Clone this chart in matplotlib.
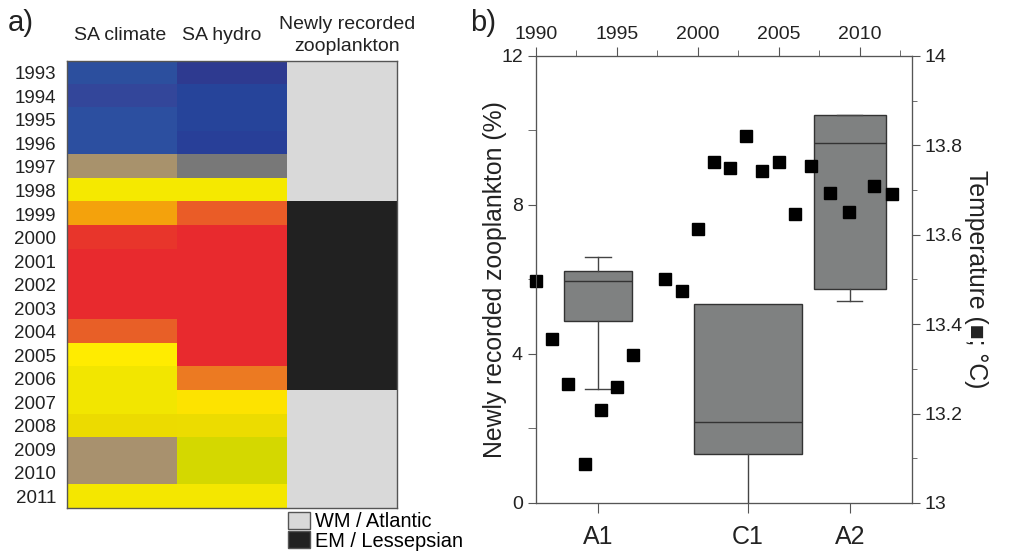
import numpy as np
import matplotlib
matplotlib.use("Agg")
import matplotlib.pyplot as plt
from matplotlib.colors import to_rgb
from matplotlib.patches import Patch

plt.rcParams['font.family'] = ['Liberation Sans', 'DejaVu Sans']

# ---- panel a data ----
years = [1993, 1994, 1995, 1996, 1997, 1998, 1999, 2000, 2001, 2002,
         2003, 2004, 2005, 2006, 2007, 2008, 2009, 2010, 2011]
columns = ["SA climate", "SA hydro", "Newly recorded\nzooplankton"]
sa_climate = ['#2c4f9e', '#33469a', '#2c4fa0', '#2c4fa0', '#a8926c', '#f5e900',
              '#f4a20c', '#e8352b', '#e82a2e', '#e82a2e', '#e82a2e', '#e85f27',
              '#ffec00', '#f2e600', '#f2e600', '#ecdb00', '#a8916e', '#a8916e',
              '#f4e700']
sa_hydro = ['#2e3a90', '#26449a', '#26449a', '#283f98', '#787878', '#f5e900',
            '#ea5c27', '#e82a2e', '#e82a2e', '#e82a2e', '#e82a2e', '#e82a2e',
            '#e82a2e', '#ec7a22', '#fde300', '#ecdc00', '#d4d800', '#d4d800',
            '#f4e700']
zoo_origin = ['WM'] * 6 + ['EM'] * 8 + ['WM'] * 5
origin_colors = {'WM': '#d9d9d9', 'EM': '#212121'}
origin_labels = {'WM': 'WM / Atlantic', 'EM': 'EM / Lessepsian'}

# ---- panel b data ----
groups = ["A1", "C1", "A2"]
group_pos = [1993.85, 2003.1, 2009.4]
group_width = [4.2, 6.7, 4.45]
box_q1 = [4.88, 1.32, 5.74]
box_med = [5.96, 2.17, 9.66]
box_q3 = [6.23, 5.33, 10.42]
whis_lo = [3.05, 0.0, 5.42]
whis_hi = [6.61, 5.33, 10.42]

temp_years = [1990, 1991, 1992, 1993, 1994, 1995, 1996, 1998, 1999, 2000,
              2001, 2002, 2003, 2004, 2005, 2006, 2007, 2008.15, 2009.35,
              2010.9, 2012]
temp = [13.496, 13.367, 13.266, 13.087, 13.208, 13.26, 13.33, 13.50, 13.475,
        13.612, 13.763, 13.749, 13.822, 13.743, 13.763, 13.646, 13.753,
        13.693, 13.650, 13.708, 13.691]

fig = plt.figure(figsize=(10.25, 5.52), dpi=100)
txt = '#222222'
spine_c = '#555555'

# ================= panel a =================
axa = fig.add_axes([0.0654, 0.0792, 0.3217, 0.8103])
rgb = np.array([[to_rgb(c1), to_rgb(c2), to_rgb(origin_colors[o])]
                for c1, c2, o in zip(sa_climate, sa_hydro, zoo_origin)])
axa.imshow(rgb, aspect='auto', interpolation='nearest',
           extent=(0, 3, len(years), 0))
axa.set_xlim(0, 3)
axa.set_ylim(len(years), 0)
axa.set_xticks([])
axa.set_yticks(np.arange(len(years)) + 0.5)
axa.set_yticklabels(years, fontsize=13.5, color=txt)
axa.tick_params(axis='y', length=0, pad=8)
for s in axa.spines.values():
    s.set_color('#555555')
    s.set_linewidth(1.0)
head_shift = [-0.02, -0.09, 0.05]
for i, name in enumerate(columns):
    axa.text(i + 0.5 + head_shift[i], 1.057, name,
             transform=axa.get_xaxis_transform(),
             ha='center', va='center', fontsize=14, color=txt,
             linespacing=1.4)

handles = [Patch(facecolor=origin_colors[k], edgecolor='#555555',
                 label=origin_labels[k]) for k in ['WM', 'EM']]
fig.legend(handles=handles, loc='upper left',
           bbox_to_anchor=(0.281, 0.072), frameon=False, fontsize=14.4,
           handlelength=1.1, handleheight=0.9, handletextpad=0.25,
           labelspacing=0.0, borderpad=0, borderaxespad=0)

fig.text(0.008, 0.958, "a)", fontsize=21, color=txt, va='center')

# ================= panel b =================
ax = fig.add_axes([0.5229, 0.0888, 0.3668, 0.8098])
stats = []
for g, q1, m, q3, lo, hi in zip(groups, box_q1, box_med, box_q3, whis_lo, whis_hi):
    stats.append(dict(label=g, q1=q1, med=m, q3=q3, whislo=lo, whishi=hi,
                      fliers=[]))
ax.bxp(stats, positions=group_pos, widths=group_width, patch_artist=True,
       showfliers=False,
       boxprops=dict(facecolor='#7f8181', edgecolor='#333333', linewidth=1.0),
       medianprops=dict(color='#333333', linewidth=1.0),
       whiskerprops=dict(color='#444444', linewidth=1.0),
       capprops=dict(color='#444444', linewidth=1.0),
       capwidths=[1.6, 0.0, 1.55])
ax.set_xlim(1990, 2013.24)
ax.set_ylim(0, 12)
ax.set_xticks(group_pos)
ax.set_xticklabels(groups, fontsize=18, color=txt)
ax.set_yticks([0, 4, 8, 12])
ax.set_yticks([2, 6, 10], minor=True)
ax.tick_params(axis='y', which='both', length=5.8, labelsize=14, colors=spine_c,
               labelcolor=txt, pad=3.6)
ax.tick_params(axis='x', length=7.2, colors=spine_c, labelcolor=txt, pad=8.5)
ax.set_ylabel("Newly recorded zooplankton (%)", fontsize=17.8, color=txt,
              labelpad=-4)
for s in ax.spines.values():
    s.set_color(spine_c)

ax2 = ax.twinx()
ax2.set_ylim(13, 14)
ax2.set_yticks([13, 13.2, 13.4, 13.6, 13.8, 14])
ax2.set_yticklabels(['13', '13.2', '13.4', '13.6', '13.8', '14'])
ax2.set_yticks([13.1, 13.3, 13.5, 13.7, 13.9], minor=True)
ax2.tick_params(axis='y', which='major', length=5.8, labelsize=14,
                colors=spine_c, labelcolor=txt, pad=3.6)
ax2.tick_params(axis='y', which='minor', length=3.6, colors=spine_c)
ax2.set_ylabel("Temperature (\u25a0; \u00b0C)", fontsize=17.8, color=txt,
               rotation=-90, labelpad=18)
for s in ax2.spines.values():
    s.set_color(spine_c)

ax3 = ax2.twiny()
ax3.set_xlim(1990, 2013.24)
ax3.plot(temp_years, temp, 's', color='black', markersize=8, clip_on=False)
ax3.set_xticks([1990, 1995, 2000, 2005, 2010])
ax3.set_xticks([1992.5, 1997.5, 2002.5, 2007.5, 2012.5], minor=True)
ax3.tick_params(axis='x', which='major', length=6.5, labelsize=14,
                colors=spine_c, labelcolor=txt, pad=3)
ax3.tick_params(axis='x', which='minor', length=4.3, colors=spine_c)
for s in ax3.spines.values():
    s.set_color(spine_c)

fig.text(0.459, 0.958, "b)", fontsize=21, color=txt, va='center')

fig.savefig("out.png", dpi=100)
